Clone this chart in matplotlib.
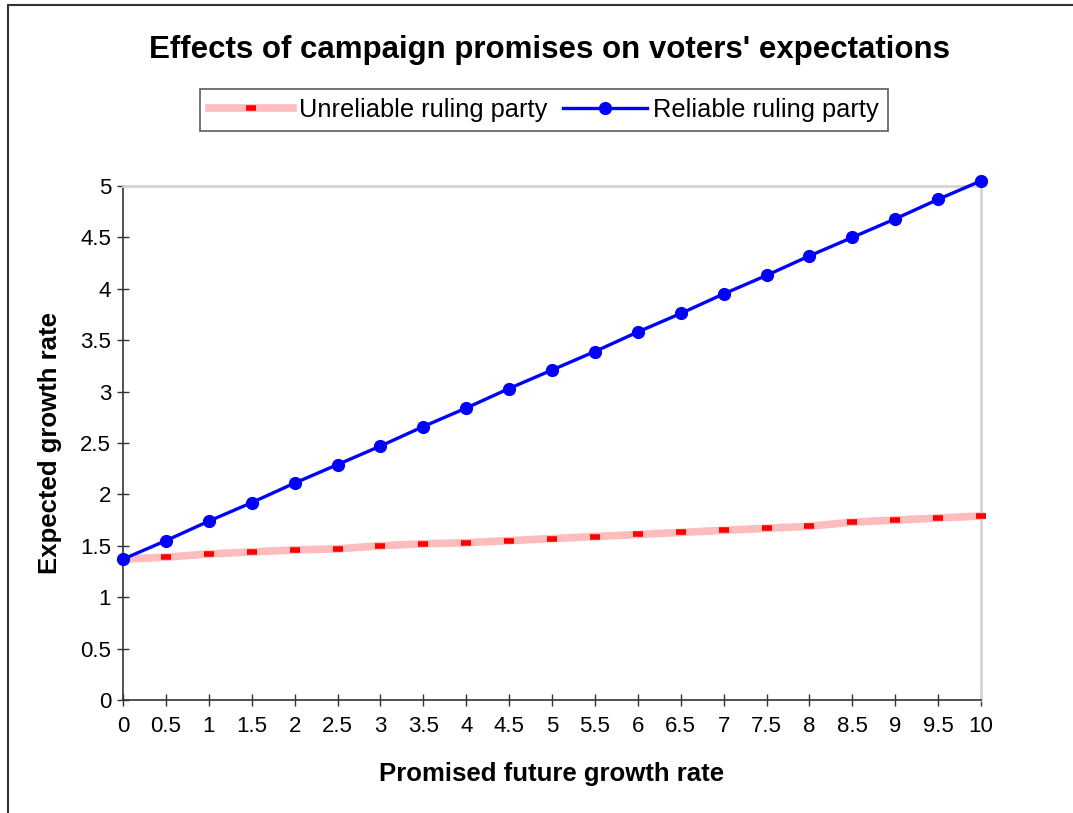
import matplotlib.pyplot as plt
from matplotlib.patches import Rectangle

plt.rcParams["font.family"] = ["Liberation Sans", "DejaVu Sans"]

# Promised growth rate (x) and expected growth rate for each party type
promised = [0, 0.5, 1, 1.5, 2, 2.5, 3, 3.5, 4, 4.5, 5,
            5.5, 6, 6.5, 7, 7.5, 8, 8.5, 9, 9.5, 10]
unreliable = [1.37, 1.39, 1.42, 1.44, 1.46, 1.47, 1.50, 1.52, 1.53, 1.55, 1.57,
              1.59, 1.61, 1.63, 1.65, 1.67, 1.69, 1.73, 1.75, 1.77, 1.79]
reliable = [1.37, 1.55, 1.74, 1.92, 2.11, 2.29, 2.47, 2.66, 2.84, 3.03, 3.21,
            3.39, 3.58, 3.76, 3.95, 4.13, 4.32, 4.50, 4.68, 4.87, 5.05]

x_ticks = promised
x_labels = ["0", "0.5", "1", "1.5", "2", "2.5", "3", "3.5", "4", "4.5", "5",
            "5.5", "6", "6.5", "7", "7.5", "8", "8.5", "9", "9.5", "10"]
y_ticks = [0, 0.5, 1, 1.5, 2, 2.5, 3, 3.5, 4, 4.5, 5]
y_labels = ["0", "0.5", "1", "1.5", "2", "2.5", "3", "3.5", "4", "4.5", "5"]

W, H = 1073, 813
fig = plt.figure(figsize=(W / 100, H / 100), dpi=100)
fig.patch.set_facecolor("white")

# chart border (left and top edges visible)
fig.patches.append(Rectangle((8 / W, -0.05), 1.2, 1 - 5 / H + 0.05,
                             transform=fig.transFigure, fill=False,
                             edgecolor="#333333", linewidth=1.5))

ax = fig.add_axes([123 / W, 113 / H, (981 - 123) / W, (700 - 186) / H])
ax.set_xlim(0, 10)
ax.set_ylim(0, 5)

ax.plot(promised, unreliable, color="#ffbcbc", linewidth=5.5,
        marker="_", markersize=7, markeredgewidth=4,
        markeredgecolor="#ff0000", label="Unreliable ruling party",
        clip_on=False, zorder=3)
ax.plot(promised, reliable, color="#0000ff", linewidth=2.4,
        marker="o", markersize=8.5, markerfacecolor="#0000ff",
        markeredgecolor="#0000ff", label="Reliable ruling party",
        clip_on=False, zorder=4)

ax.set_xticks(x_ticks)
ax.set_xticklabels(x_labels)
ax.set_yticks(y_ticks)
ax.set_yticklabels(y_labels)
ax.tick_params(axis="both", direction="inout", length=9, width=1,
               color="#333333", labelsize=16, labelcolor="black")
ax.tick_params(axis="x", pad=7)
ax.tick_params(axis="y", pad=4)

for side in ["left", "bottom"]:
    ax.spines[side].set_color("#333333")
    ax.spines[side].set_linewidth(1.2)
for side in ["top", "right"]:
    ax.spines[side].set_color("#d4d4d4")
    ax.spines[side].set_linewidth(2)

ax.set_xlabel("Promised future growth rate", fontsize=18.5, fontweight="bold",
              labelpad=18)
ax.set_ylabel("Expected growth rate", fontsize=18.5, fontweight="bold",
              labelpad=13)

fig.text(549 / W, 1 - 50 / H, "Effects of campaign promises on voters' expectations",
         ha="center", va="center", fontsize=22.5, fontweight="bold")

leg = fig.legend(loc="center", bbox_to_anchor=(544 / W, 1 - 110 / H), ncol=2,
                 fontsize=18.3, frameon=True, fancybox=False, handlelength=3.3,
                 columnspacing=0.6, handletextpad=0.25, borderpad=0.35)
leg.get_frame().set_edgecolor("#333333")
leg.get_frame().set_linewidth(1.2)

fig.savefig("out.png", dpi=100)
